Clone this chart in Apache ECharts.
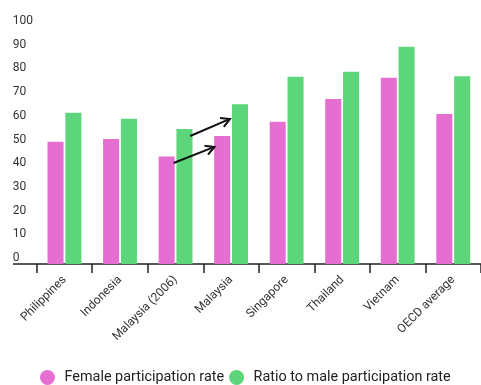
<!DOCTYPE html>
<html>
<head>
<meta charset="utf-8">
<script src="https://cdn.jsdelivr.net/npm/echarts@6/dist/echarts.min.js"></script>
<style>html,body{margin:0;padding:0;background:#fff;}#c{width:481px;height:385px;}</style>
</head>
<body>
<div id="c"></div>
<script>
const categories = ['Philippines','Indonesia','Malaysia (2006)','Malaysia','Singapore','Thailand','Vietnam','OECD average'];
const femaleRate = [51.6, 52.7, 45.4, 54.0, 60.0, 69.6, 78.6, 63.3];
const ratioToMale = [63.8, 61.3, 57.0, 67.4, 79.0, 81.1, 91.7, 79.2];
const yTicks = [0,10,20,30,40,50,60,70,80,90,100];

const PINK = '#e46fd1';
const GREEN = '#5dd67b';
const FONT = 'Roboto';

const chart = echarts.init(document.getElementById('c'), null, {renderer:'canvas'});
chart.setOption({
  animation:false,
  textStyle:{fontFamily:FONT},
  grid:{left:36.7, right:-7, top:27, bottom:121, containLabel:false},
  legend:{
    bottom:0, left:40, padding:0,
    icon:'circle', itemWidth:24, itemHeight:15, itemGap:5,
    textStyle:{fontSize:14.4, color:'#222', fontFamily:FONT},
    data:['Female participation rate','Ratio to male participation rate']
  },
  xAxis:{
    type:'category', data:categories,
    axisLine:{lineStyle:{color:'#222', width:1.5}},
    axisTick:{show:true, length:9, lineStyle:{color:'#222', width:1.5}, alignWithLabel:false},
    axisLabel:{rotate:45, fontSize:12, color:'#333', margin:14, interval:0}
  },
  yAxis:{
    type:'value', min:yTicks[0], max:yTicks[yTicks.length-1], interval:10,
    splitLine:{show:false}, axisLine:{show:false}, axisTick:{show:false},
    axisLabel:{align:'left', verticalAlign:'bottom', margin:24, fontSize:12, color:'#333'}
  },
  series:[
    {name:'Female participation rate', type:'bar', data:femaleRate, barGap:'11%', barCategoryGap:'39%', itemStyle:{color:PINK}},
    {name:'Ratio to male participation rate', type:'bar', data:ratioToMale, itemStyle:{color:GREEN}}
  ]
});

function px(catIdx, frac, val){
  const c0 = chart.convertToPixel({xAxisIndex:0}, catIdx);
  const c1 = chart.convertToPixel({xAxisIndex:0}, catIdx+1);
  const bw = c1 - c0;
  const y = chart.convertToPixel({yAxisIndex:0}, val);
  return [c0 + frac*bw, y];
}
function arrow(a, b){
  const ang = Math.atan2(b[1]-a[1], b[0]-a[0]);
  const L = 10, spread = 0.5;
  const h1 = [b[0]-L*Math.cos(ang-spread), b[1]-L*Math.sin(ang-spread)];
  const h2 = [b[0]-L*Math.cos(ang+spread), b[1]-L*Math.sin(ang+spread)];
  return [
    {type:'line', shape:{x1:a[0],y1:a[1],x2:b[0],y2:b[1]}, style:{stroke:'#111', lineWidth:2}, z:100},
    {type:'polyline', shape:{points:[h1,b,h2]}, style:{stroke:'#111', lineWidth:2, fill:null}, z:100}
  ];
}
const i06 = categories.indexOf('Malaysia (2006)');
const iM = categories.indexOf('Malaysia');
const y0 = chart.convertToPixel({yAxisIndex:0}, 0);
const gl = chart.convertToPixel({xAxisIndex:0}, 0) - (chart.convertToPixel({xAxisIndex:0},1)-chart.convertToPixel({xAxisIndex:0},0))/2;
chart.setOption({
  graphic:[
    {type:'line', shape:{x1:13,y1:y0,x2:gl,y2:y0}, style:{stroke:'#222', lineWidth:1.5}},
    ...arrow(px(i06,-0.035,42.6), px(iM,-0.30,49.4)),
    ...arrow(px(i06,0.265,54.0), px(iM,-0.02,61.2))
  ]
});
</script>
</body>
</html>
